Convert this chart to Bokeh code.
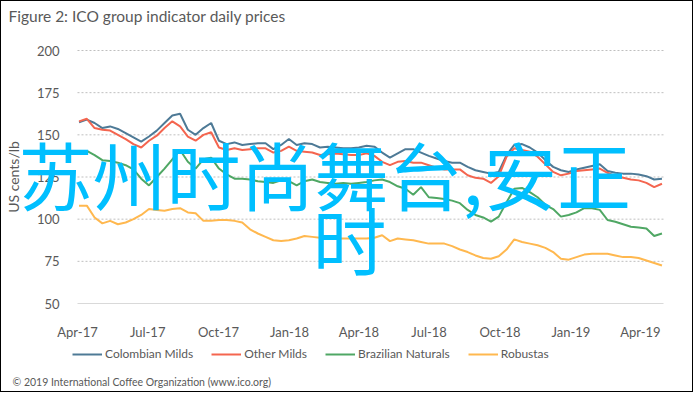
import pandas as pd
from bokeh.plotting import figure
from bokeh.models import (Range1d, FixedTicker, MonthsTicker, DatetimeTickFormatter,
                          Legend, LegendItem, Label)
from bokeh.embed import file_html
from bokeh.resources import INLINE

# ---------------- data (US cents/lb) ----------------
start_date = "2017-04-03"
end_date = "2019-04-29"

colombian_milds = [157.5, 159, 157, 154, 155, 153.5, 151, 148.5, 146, 149, 152.5, 157, 161.5, 162.5, 153, 150,
                   154, 157, 146.5, 144.5, 145.5, 144, 144.5, 145, 145, 141.5, 144, 147.5, 144, 145, 144.5, 142.5,
                   143, 142.5, 142, 142, 142.5, 143.5, 143, 139.5, 136.5, 139, 141.5, 141.5, 139.5, 137.5, 136,
                   134.5, 133.5, 133.5, 131, 129, 128, 127, 128, 138, 144, 144.5, 142.5, 139.5, 135, 131, 129,
                   128, 129.5, 130.5, 131.5, 132.5, 128.5, 127.5, 127, 127, 126.5, 125.5, 123.5, 124]
other_milds = [158, 159.5, 154, 153, 152.5, 150, 147.5, 144.5, 142.5, 146.5, 149.5, 154, 158, 155, 149, 146.5,
               150, 151.5, 142.5, 141, 142, 141, 141.5, 142, 142, 139.5, 140.5, 143, 140.5, 140, 139.5, 138,
               138.5, 139, 138.5, 138, 138, 139, 137.5, 134, 132, 134, 134.5, 133.5, 133.5, 132, 130.5, 129.5,
               129.5, 129.5, 126, 124.5, 124, 121.5, 125.5, 137, 142, 141, 140, 137, 132.5, 128, 126, 127,
               128.5, 129, 129.5, 130, 127.5, 125.5, 124.5, 123.5, 123, 121.5, 119, 121]
brazilian_naturals = [139.5, 140.5, 138, 135, 134.5, 133.5, 132, 129.5, 124, 120, 125, 130, 135.5, 141, 134, 130,
                      135.5, 136.5, 130, 126.5, 124, 124, 123.5, 122.5, 122, 121.5, 123, 122.5, 120, 122.5, 123.5,
                      122, 121.5, 121, 121.5, 121, 121.5, 122, 123, 123.5, 122, 119.5, 118, 114.5, 119, 113,
                      112.5, 112, 111, 109.5, 105.5, 102.5, 101, 98.5, 101.5, 110, 118, 118.5, 116, 113, 108.5,
                      106, 101.5, 102.5, 104, 106.5, 106.5, 105.5, 99.5, 98.5, 97, 95.5, 95, 94.5, 90, 91.5]
robustas = [108, 108, 101, 97.5, 99, 97, 98, 100, 102.5, 106, 105.5, 105, 106, 106.5, 104, 103.5, 99, 99, 99.5,
            99.5, 99, 98, 94, 91.5, 89.5, 87.5, 87, 87.5, 88.5, 90, 89.5, 89, 88.5, 88.5, 88.5, 88.5, 88.5, 88.5,
            89, 90.5, 87, 88.5, 88, 87.5, 86.5, 85.5, 85.5, 85.5, 84, 82, 80.5, 78.5, 77, 76.5, 78, 82, 88, 86.5,
            85.5, 84.5, 83, 80.5, 76.5, 76, 77.5, 79, 79.5, 79.5, 79.5, 78.5, 77.5, 77.5, 77, 75.5, 74, 72.5]

series_names = ["Colombian Milds", "Other Milds", "Brazilian Naturals", "Robustas"]
series_colors = ["#4E7A96", "#F4654F", "#4FA764", "#FFB84F"]
y_ticks = [50, 75, 100, 125, 150, 175, 200]
axis_start = "2017-04-01"
axis_end = "2019-05-01"

title_text = "Figure 2: ICO group indicator daily prices"
y_label = "US cents/lb"
footer_text = "\u00a9 2019 International Coffee Organization (www.ico.org)"
overlay_line1 = "苏州时尚舞台,安正"
overlay_line2 = "时"

dates = pd.date_range(start_date, end_date, periods=len(colombian_milds))

# ---------------- layout (pixels) ----------------
W, H = 693, 392                 # canvas (plus 1px css border each side)
PL, PR, PT, PB = 76, 662, 49, 302  # where the plot area sits inside the canvas
FONT = "Lato"
GREY = "#595959"

t0 = pd.Timestamp(axis_start)
t1 = pd.Timestamp(axis_end)
per_px = (t1 - t0) / (PR - PL)
x_start = t0 - PL * per_px
x_end = t1 + (W - PR) * per_px
y_lo, y_hi = y_ticks[0], y_ticks[-1]
u = (y_hi - y_lo) / (PB - PT)
yr_start = y_lo - (H - PB) * u
yr_end = y_hi + PT * u

p = figure(width=W, height=H, x_axis_type="datetime", output_backend="svg",
           toolbar_location=None, title=None,
           x_range=Range1d(x_start.to_pydatetime(), x_end.to_pydatetime()),
           y_range=Range1d(yr_start, yr_end),
           min_border_left=0, min_border_right=0, min_border_top=0, min_border_bottom=0)
p.styles = {"border": "1px solid #000000"}
p.outline_line_color = None
p.background_fill_color = "white"
p.border_fill_color = "white"
p.xgrid.visible = False
p.ygrid.visible = False

t0_ms = t0.value / 1e6
t1_ms = t1.value / 1e6

# dotted gridlines spanning the plot area only
grid_levels = y_ticks[1:]
p.segment(x0=[t0.to_pydatetime()] * len(grid_levels), x1=[t1.to_pydatetime()] * len(grid_levels),
          y0=grid_levels, y1=grid_levels, line_color="#BFBFBF", line_dash="2 2", line_width=1)

renderers = []
for vals, col in zip([colombian_milds, other_milds, brazilian_naturals, robustas], series_colors):
    r = p.line(dates, vals, line_color=col, line_width=2)
    renderers.append(r)

# axes, pinned inside the full-canvas frame
yax = p.yaxis[0]
yax.fixed_location = t0_ms
yax.bounds = (y_lo, y_hi)
yax.ticker = FixedTicker(ticks=y_ticks)
yax.axis_line_color = None
yax.major_tick_line_color = None
yax.minor_tick_line_color = None
yax.major_label_standoff = 12
yax.major_label_text_font = FONT
yax.major_label_text_font_size = "13px"
yax.major_label_text_color = GREY
yax.axis_label = y_label
yax.axis_label_text_font = FONT
yax.axis_label_text_font_size = "14px"
yax.axis_label_text_font_style = "normal"
yax.axis_label_text_color = GREY
yax.axis_label_standoff = 12

xax = p.xaxis[0]
xax.fixed_location = y_lo
xax.bounds = (t0_ms, t1_ms)
xax.ticker = MonthsTicker(months=[0, 3, 6, 9])
xax.formatter = DatetimeTickFormatter(months="%b-%y", days="%b-%y", years="%b-%y")
xax.axis_line_color = "#D9D9D9"
xax.axis_line_width = 1
xax.major_tick_line_color = None
xax.minor_tick_line_color = None
xax.major_label_standoff = 14
xax.major_label_text_font = FONT
xax.major_label_text_font_size = "13px"
xax.major_label_text_color = GREY

legend = Legend(items=[LegendItem(label=n, renderers=[r]) for n, r in zip(series_names, renderers)],
                orientation="horizontal", location=(71, 32), padding=0, margin=0, spacing=18,
                glyph_width=30, glyph_height=14, label_standoff=3, label_height=14,
                border_line_color=None, background_fill_alpha=0,
                label_text_font=FONT, label_text_font_size="12px", label_text_color=GREY)
p.add_layout(legend)

p.add_layout(Label(x=7, y=H + 1 - 15, x_units="screen", y_units="screen", text=title_text,
                   text_font=FONT, text_font_size="15.5px", text_color=GREY, text_baseline="middle"))
p.add_layout(Label(x=11, y=H + 1 - 381, x_units="screen", y_units="screen", text=footer_text,
                   text_font=FONT, text_font_size="10.5px", text_color=GREY, text_baseline="middle"))
p.add_layout(Label(x=17, y=H + 1 - 172, x_units="screen", y_units="screen", text=overlay_line1,
                   text_font="Noto Sans CJK SC", text_font_size="74px", text_color="#00BFFF",
                   text_baseline="middle"))
p.add_layout(Label(x=311, y=H + 1 - 237, x_units="screen", y_units="screen", text=overlay_line2,
                   text_font="Noto Sans CJK SC", text_font_size="74px", text_color="#00BFFF",
                   text_baseline="middle"))

html = file_html(p, INLINE)
html = html.replace("<head>", "<head><style>html,body{margin:0;padding:0;overflow:hidden;}</style>", 1)
open("out.html", "w").write(html)
